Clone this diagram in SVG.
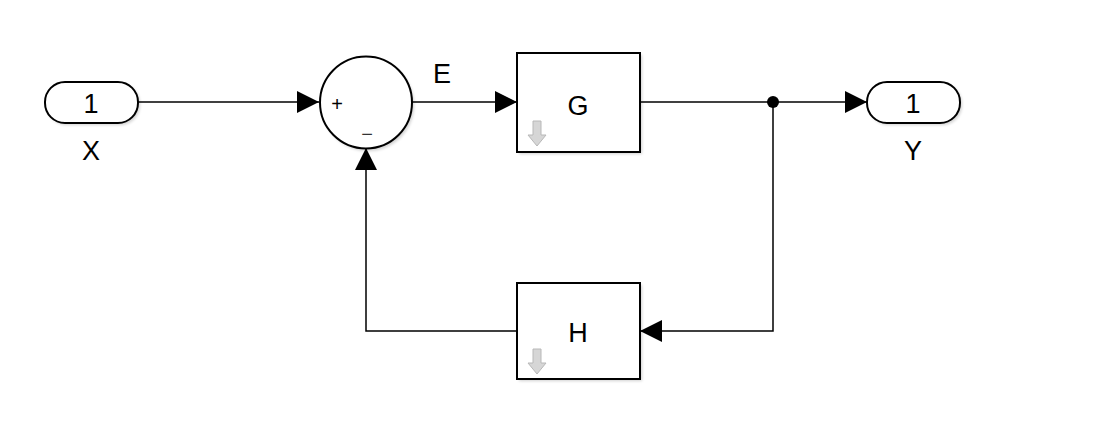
<svg xmlns="http://www.w3.org/2000/svg" width="1110" height="422" viewBox="0 0 1110 422">
<defs>
<style>
.blk{fill:#fff;stroke:#000;stroke-width:2}
.shd{fill:#000;opacity:0.18}
.ln{fill:none;stroke:#000;stroke-width:1.5}
.t{font-family:"Liberation Sans",Arial,sans-serif;fill:#000;text-anchor:middle;font-size:27px}
.ic{fill:#d6d6d6;stroke:#b8b8b8;stroke-width:1}
</style>
<filter id="blur" x="-10%" y="-10%" width="130%" height="130%"><feGaussianBlur stdDeviation="1.5"/></filter>
<marker id="ah" viewBox="0 0 22 22" refX="22" refY="11" markerWidth="22" markerHeight="22" markerUnits="userSpaceOnUse" orient="auto">
<path d="M0,0 L22,11 L0,22 Z" fill="#000"/>
</marker>
</defs>
<rect width="1110" height="422" fill="#fff"/>
<g id="connectors">
<path class="ln" d="M138,102 H319" marker-end="url(#ah)"/>
<path class="ln" d="M412,102 H517" marker-end="url(#ah)"/>
<path class="ln" d="M640,102 H867" marker-end="url(#ah)"/>
<path class="ln" d="M773,102 V331 H640" marker-end="url(#ah)"/>
<path class="ln" d="M517,331 H366 V148" marker-end="url(#ah)"/>
<circle cx="773" cy="102" r="6" fill="#000"/>
<text class="t" x="442" y="83">E</text>
</g>
<g id="X">
<rect class="shd" x="47" y="84" width="93" height="41" rx="20" filter="url(#blur)"/>
<rect class="blk" x="45" y="82" width="93" height="41" rx="20"/>
<text class="t" x="91" y="113">1</text>
<text class="t" x="91" y="160">X</text>
</g>
<g id="Sum">
<circle class="shd" cx="368" cy="105" r="46" filter="url(#blur)"/>
<circle class="blk" cx="366" cy="102.5" r="46"/>
<text class="t" x="337" y="111" style="font-size:20px">+</text>
<text class="t" x="367" y="141" style="font-size:20px;fill:#333">−</text>
</g>
<g id="G">
<rect class="shd" x="519" y="55" width="123" height="99" filter="url(#blur)"/>
<rect class="blk" x="517" y="53" width="123" height="99"/>
<text class="t" x="578" y="115">G</text>
<path class="ic" d="M533,121 H541 V135 H546 L537,146 L528,135 H533 Z"/>
</g>
<g id="H">
<rect class="shd" x="519" y="285" width="123" height="96" filter="url(#blur)"/>
<rect class="blk" x="517" y="283" width="123" height="96"/>
<text class="t" x="578" y="342">H</text>
<path class="ic" d="M533,349 H541 V363 H546 L537,374 L528,363 H533 Z"/>
</g>
<g id="Y">
<rect class="shd" x="869" y="84" width="93" height="41" rx="20" filter="url(#blur)"/>
<rect class="blk" x="867" y="82" width="93" height="41" rx="20"/>
<text class="t" x="913" y="113">1</text>
<text class="t" x="913" y="160">Y</text>
</g>
</svg>
